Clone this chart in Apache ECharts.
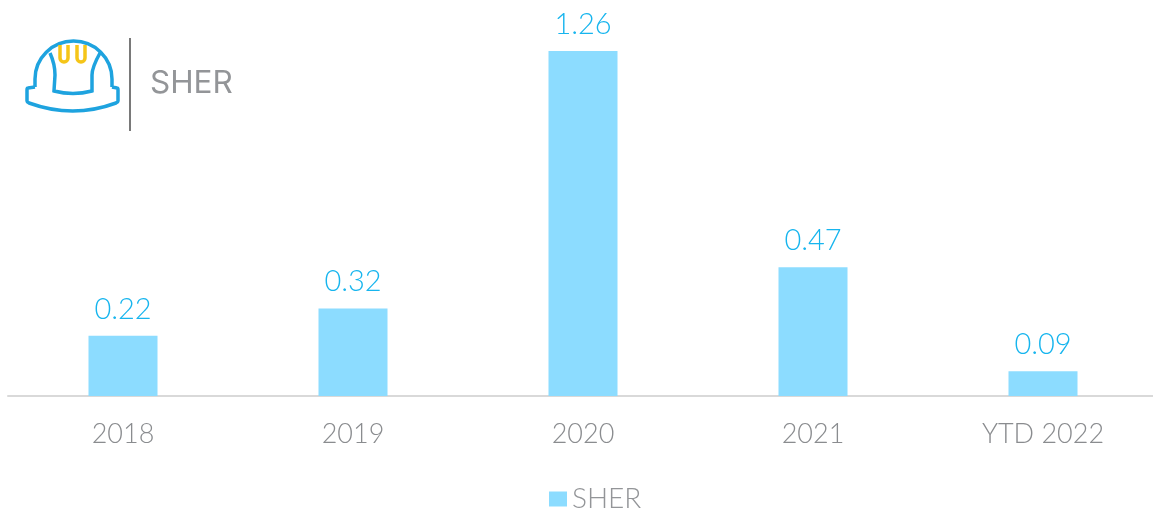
<!DOCTYPE html>
<html><head><meta charset="utf-8">
<style>html,body{margin:0;padding:0;background:#fff}#c{width:1153px;height:510px}</style>
<script src="https://cdn.jsdelivr.net/npm/echarts@6/dist/echarts.min.js"></script>
</head><body><div id="c"></div>
<script>
const categories=['2018','2019','2020','2021','YTD 2022'];
const values=[0.22,0.32,1.26,0.47,0.09];
const seriesName='SHER';
const hatBlue='M35 87 L35 79 A38.5 38 0 0 1 112 79 L112 87 M50 53 C54 62 55 68 55 75 L54 91 Q73 96 92 91 L92 75 C92 68 95 62 100 53 M35 87 L28 88 Q27 88 27 90 L27 101 Q27 102 29 103 Q73 119 116 103 Q118 102 118 101 L118 90 Q118 88 117 88 L112 87';
const hatYellow='M60 45 L60 58 A4 4 0 0 0 68 58 L68 45 M77 45 L77 58 A4 4 0 0 0 85 58 L85 45';
echarts.graphic.registerShape('hatBlue',echarts.graphic.extendPath(hatBlue,{}));
echarts.graphic.registerShape('hatYellow',echarts.graphic.extendPath(hatYellow,{}));
const chart=echarts.init(document.getElementById('c'),null,{renderer:'canvas'});
chart.setOption({
 animation:false,
 backgroundColor:'#fff',
 grid:{left:8,width:1150,top:51,height:345,containLabel:false,outerBoundsMode:'none'},
 legend:{left:544,top:480,itemWidth:18,itemHeight:15,itemGap:7,icon:'rect',data:[seriesName],
   textStyle:{fontFamily:'Lato',fontWeight:300,fontSize:28,color:'#939598'}},
 graphic:[
  {type:'line',shape:{x1:130,y1:38,x2:130,y2:131},style:{stroke:'#4d4d4d',lineWidth:1.5}},
  {type:'text',x:150,y:68,style:{text:'SHER',fontFamily:'Inter',fontSize:31.5,fill:'#939598'}},
  {type:'hatBlue',style:{stroke:'#1ea3df',lineWidth:3.5,fill:'none'}},
  {type:'hatYellow',style:{stroke:'#f5c518',lineWidth:3.5,fill:'none'}}
 ],
 xAxis:{type:'category',data:categories,axisTick:{show:false},
   axisLine:{lineStyle:{color:'#d9d9d9',width:2}},
   axisLabel:{fontFamily:'Lato',fontWeight:300,fontSize:27,color:'#8a8c8f',margin:25}},
 yAxis:{type:'value',min:0,max:1.26,show:false,splitLine:{show:false}},
 series:[{name:seriesName,type:'bar',data:values,barWidth:'30%',itemStyle:{color:'#8cdcff'},
   label:{show:true,position:'top',distance:12,fontFamily:'Lato',fontWeight:300,fontSize:29,color:'#17b5ee',formatter:p=>p.value.toFixed(2)}}]
});
</script></body></html>
